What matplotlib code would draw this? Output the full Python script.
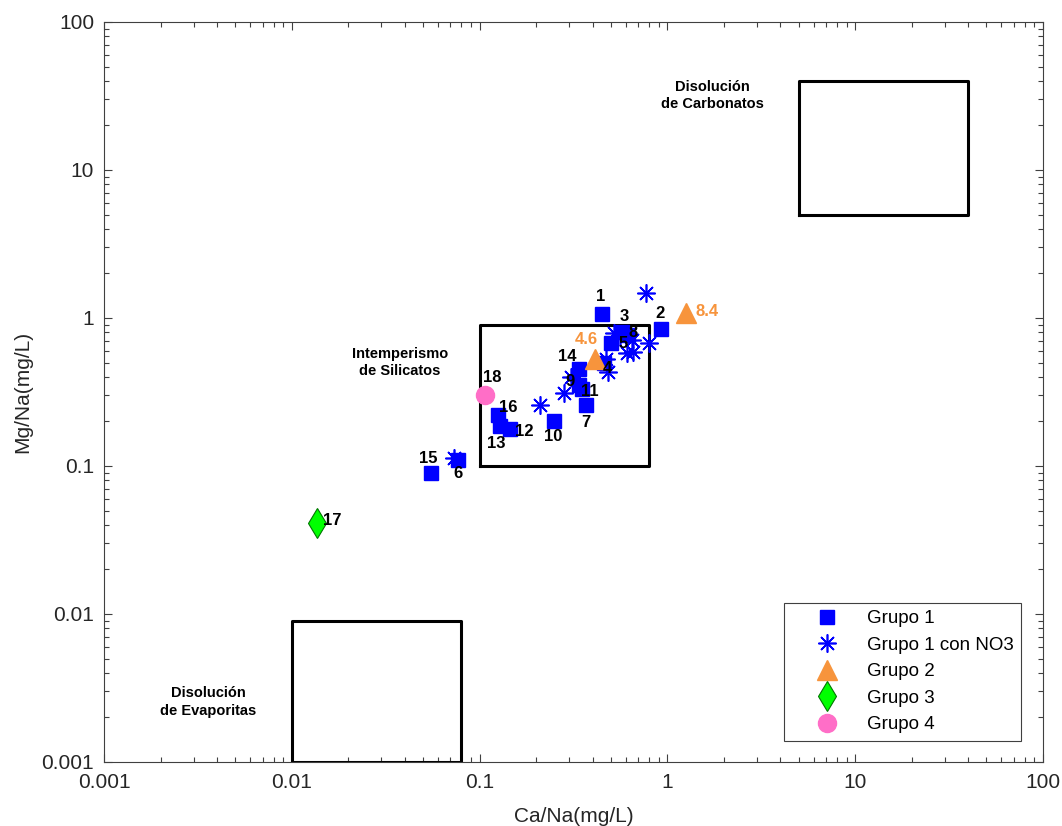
import numpy as np
import matplotlib.pyplot as plt
from matplotlib.ticker import LogLocator, FuncFormatter, NullFormatter

plt.rcParams['font.family'] = ['Liberation Sans', 'DejaVu Sans']

# Grupo 1 (muestras numeradas)
g1_id = ['1', '2', '3', '4', '5', '6', '7', '8', '9', '10', '11', '12', '13', '14', '15', '16']
g1_ca = [0.45, 0.92, 0.57, 0.46, 0.50, 0.077, 0.37, 0.62, 0.34, 0.25, 0.35, 0.146, 0.128, 0.34, 0.055, 0.126]
g1_mg = [1.06, 0.84, 0.81, 0.50, 0.68, 0.11, 0.26, 0.77, 0.35, 0.20, 0.33, 0.177, 0.186, 0.45, 0.090, 0.22]

# Grupo 1 con NO3
no3_ca = [0.77, 0.80, 0.61, 0.66, 0.52, 0.65, 0.56, 0.47, 0.48, 0.307, 0.28, 0.209, 0.0734]
no3_mg = [1.48, 0.68, 0.58, 0.59, 0.79, 0.71, 0.74, 0.53, 0.43, 0.40, 0.31, 0.26, 0.114]

# Grupo 2
g2_id = ['4.6', '8.4']
g2_ca = [0.41, 1.26]
g2_mg = [0.53, 1.08]

# Grupo 3 y Grupo 4
g3_id = ['17']
g3_ca = [0.0136]
g3_mg = [0.041]
g4_id = ['18']
g4_ca = [0.107]
g4_mg = [0.30]

# campos: (ca_min, ca_max, mg_min, mg_max)
campos = {
    'carbonatos': (5, 40, 5, 40),
    'silicatos': (0.1, 0.8, 0.1, 0.9),
    'evaporitas': (0.01, 0.08, 0.001, 0.009),
}

# desplazamiento de las etiquetas en pixeles
off_g1 = [(-2, 18), (-1, 16), (3, 15), (3, -6), (12, -1), (0, -14), (0, -18), (5, 2),
          (-9, 4), (-1, -15), (8, -2), (14, -2), (-3, -17), (-12, 13), (-3, 14), (10, 8)]
off_g2 = [(-8, 19), (21, 2)]
off_g3 = [(15, 3)]
off_g4 = [(7, 18)]

orange = '#f7943c'

fig = plt.figure(figsize=(10.62, 8.26), dpi=100)
ax = fig.add_axes([0.0979, 0.0775, 0.8842, 0.8959])

for x0, x1, y0, y1 in campos.values():
    ax.plot([x0, x1, x1, x0, x0], [y0, y0, y1, y1, y0], color='k', lw=2.2, zorder=2)

ax.plot(g1_ca, g1_mg, 's', color='#0000ff', ms=10, mec='#0000ff', label='Grupo 1', zorder=3)
ax.plot(no3_ca, no3_mg, ls='none', marker=(8, 2, 0), color='#0000ff', ms=13, mew=1.2,
        label='Grupo 1 con NO3', zorder=4)
ax.plot(g2_ca, g2_mg, '^', color=orange, mec=orange, ms=15, label='Grupo 2', zorder=5)
ax.plot(g3_ca, g3_mg, 'd', color='#00ff00', mec='#007700', mew=0.8, ms=15, label='Grupo 3', zorder=5)
ax.plot(g4_ca, g4_mg, 'o', color='#ff6ec7', mec='#ff6ec7', ms=13, label='Grupo 4', zorder=5)

def etiquetas(ids, xs, ys, offs, color):
    for t, x, y, o in zip(ids, xs, ys, offs):
        ax.annotate(t, (x, y), xytext=o, textcoords='offset pixels', ha='center', va='center',
                    fontsize=12, fontweight='bold', color=color, zorder=6)

etiquetas(g1_id, g1_ca, g1_mg, off_g1, 'k')
etiquetas(g2_id, g2_ca, g2_mg, off_g2, orange)
etiquetas(g3_id, g3_ca, g3_mg, off_g3, 'k')
etiquetas(g4_id, g4_ca, g4_mg, off_g4, 'k')

ax.text(1.74, 32, 'Disolución\nde Carbonatos', ha='center', va='center', fontsize=10.5,
        fontweight='bold', linespacing=1.3)
ax.text(0.00358, 0.00254, 'Disolución\nde Evaporitas', ha='center', va='center', fontsize=10.5,
        fontweight='bold', linespacing=1.3)
ax.text(0.0377, 0.50, 'Intemperismo\nde Silicatos', ha='center', va='center', fontsize=10.5,
        fontweight='bold', linespacing=1.3)

ax.set_xscale('log')
ax.set_yscale('log')
ax.set_xlim(0.001, 100)
ax.set_ylim(0.001, 100)

fmt = FuncFormatter(lambda v, p: '%g' % v)
for axis in (ax.xaxis, ax.yaxis):
    axis.set_major_locator(LogLocator(base=10, numticks=10))
    axis.set_minor_locator(LogLocator(base=10, subs=np.arange(2, 10), numticks=50))
    axis.set_major_formatter(fmt)
    axis.set_minor_formatter(NullFormatter())

ax.tick_params(which='both', direction='in', top=True, right=True, color='#404040')
ax.tick_params(which='major', length=6, width=0.8, labelsize=15, labelcolor='#262626')
ax.tick_params(axis='x', which='major', pad=8)
ax.tick_params(axis='y', which='major', pad=7)
ax.tick_params(which='minor', length=3.5, width=0.8)
for s in ax.spines.values():
    s.set_color('#404040')
    s.set_linewidth(0.8)

ax.set_xlabel('Ca/Na(mg/L)', fontsize=15, color='#262626', labelpad=11)
ax.set_ylabel('Mg/Na(mg/L)', fontsize=15, color='#262626', labelpad=7)

leg = ax.legend(loc='lower right', bbox_to_anchor=(0.9766, 0.0284), borderaxespad=0,
                fontsize=13.5, fancybox=False, edgecolor='#404040', framealpha=1,
                labelspacing=0.5, handlelength=3.8, handletextpad=0.2, borderpad=0.4)
leg.get_frame().set_linewidth(0.8)

fig.savefig('out.png', dpi=100)
